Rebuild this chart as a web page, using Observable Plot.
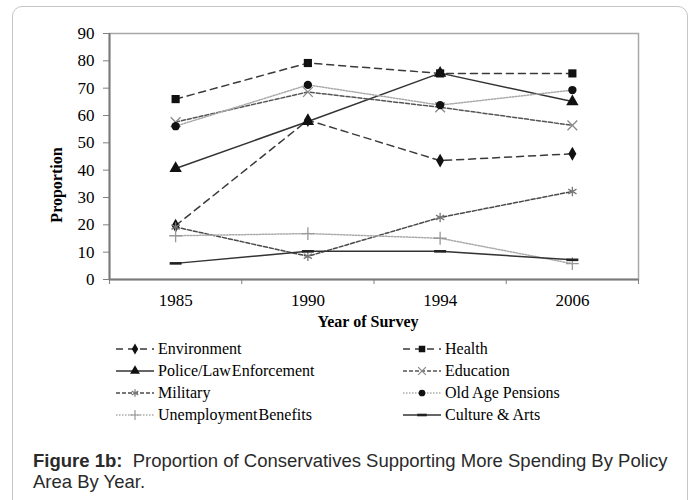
<!DOCTYPE html>
<html>
<head>
<meta charset="utf-8">
<script src="https://cdn.jsdelivr.net/npm/d3@7"></script>
<script src="https://cdn.jsdelivr.net/npm/@observablehq/plot@0.6"></script>
<style>
  html, body { margin: 0; padding: 0; background: #fff; }
  #wrap { position: relative; width: 694px; height: 500px; overflow: hidden; background: #fff; }
  #frame { position: absolute; left: 12px; top: 6px; width: 674px; height: 520px; border: 1.5px solid #c6c6c6; border-radius: 10px; }
  #chart { position: absolute; left: 0; top: 0; }
  .serif { font-family: "Liberation Serif", "Times New Roman", serif; color: #000; }
  #ylab { position: absolute; left: 57px; top: 185px; transform: translate(-50%, -50%) rotate(-90deg); font-weight: bold; font-size: 16px; white-space: nowrap; }
  #xlab { position: absolute; left: 368px; top: 322px; transform: translate(-50%, -50%); font-weight: bold; font-size: 16px; white-space: nowrap; }
  .leg { position: absolute; height: 20px; display: flex; align-items: center; font-size: 16px; white-space: nowrap; }
  .leg svg { display: block; margin-right: 4px; }
  .tight { word-spacing: -3px; }
  #caption { position: absolute; left: 33px; top: 450px; width: 650px; font-family: "Liberation Sans", Arial, sans-serif; font-size: 18.5px; line-height: 21px; color: #2a2a2a; }
  #caption div { white-space: nowrap; }
</style>
</head>
<body>
<div id="wrap">
  <div id="frame"></div>
  <div id="chart"></div>
  <div id="ylab" class="serif">Proportion</div>
  <div id="xlab" class="serif">Year of Survey</div>
  <div id="legend"></div>
  <div id="caption">
    <div><b>Figure 1b:</b><span>&nbsp; Proportion of Conservatives Supporting More Spending By Policy</span></div>
    <div>Area By Year.</div>
  </div>
</div>
<script>
// ---- data ----
const years = ["1985", "1990", "1994", "2006"];
const seriesNames = ["Environment", "Health", "Police/Law Enforcement", "Education", "Military", "Old Age Pensions", "Unemployment Benefits", "Culture & Arts"];
const environment  = [19.7, 58.3, 43.5, 46.0];
const health       = [66.0, 79.2, 75.4, 75.4];
const police       = [40.6, 57.8, 75.5, 65.1];
const education    = [57.6, 68.6, 63.0, 56.4];
const military     = [19.2, 8.5, 22.7, 32.2];
const pensions     = [56.1, 71.2, 63.8, 69.3];
const unemployment = [16.0, 16.8, 15.1, 5.8];
const culture      = [5.9, 10.3, 10.3, 7.2];
const yTicks = [0, 10, 20, 30, 40, 50, 60, 70, 80, 90];

// custom short-bar symbol for Culture & Arts
const barSymbol = { draw(ctx, size) { const w = Math.sqrt(size) * 0.75; ctx.rect(-w, -1.3, 2 * w, 2.6); } };

const styles = [
  { values: environment,  stroke: "#3a3a3a", dash: "7,5", sw: 1.5, symbol: "diamond",  r: 4.2, fill: "#111", mstroke: "none" },
  { values: health,       stroke: "#3a3a3a", dash: "7,5", sw: 1.5, symbol: "square",   r: 4.6, fill: "#111", mstroke: "none" },
  { values: police,       stroke: "#333",    dash: null,  sw: 1.5, symbol: "triangle", r: 4.6, fill: "#111", mstroke: "none" },
  { values: education,    stroke: "#555",    dash: "4,2", sw: 1.5, symbol: "times",    r: 4.5, fill: "none", mstroke: "#888" },
  { values: military,     stroke: "#4a4a4a", dash: "4,2", sw: 1.5, symbol: "asterisk", r: 4.5, fill: "none", mstroke: "#777" },
  { values: pensions,     stroke: "#aaa",    dash: "1.5,1.5", sw: 1.5, symbol: "circle", r: 4.2, fill: "#111", mstroke: "none" },
  { values: unemployment, stroke: "#aaa",    dash: "1.5,1.5", sw: 1.5, symbol: "plus",  r: 4.2, fill: "none", mstroke: "#999" },
  { values: culture,      stroke: "#333",    dash: null,  sw: 1.5, symbol: barSymbol,  r: 4.5, fill: "#222", mstroke: "none" }
];
const tightNames = new Set(["Police/Law Enforcement", "Unemployment Benefits"]);

const lineMarks = [];
const dotMarks = [];
styles.forEach((s, k) => {
  const rows = s.values.map((v, i) => ({ name: seriesNames[k], i, v }));
  lineMarks.push(Plot.line(rows, { x: "i", y: "v", stroke: s.stroke, strokeWidth: s.sw, strokeDasharray: s.dash || undefined }));
  dotMarks.push(Plot.dot(rows, { x: "i", y: "v", symbol: () => s.symbol, r: s.r, fill: s.fill, stroke: s.mstroke, strokeWidth: 1.3 }));
});

const idx = years.map((_, i) => i);
const bounds = d3.range(-0.5, years.length, 1);

const chart = Plot.plot({
  width: 694,
  height: 335,
  marginLeft: 109,
  marginRight: 56,
  marginTop: 33,
  marginBottom: 56,
  style: { fontFamily: "'Liberation Serif', 'Times New Roman', serif", fontSize: "16px", color: "#000", background: "transparent" },
  x: { domain: [-0.5, years.length - 0.5], axis: null },
  y: { domain: [0, 90], axis: null },
  symbol: { type: "identity" },
  marks: [
    Plot.frame({ stroke: "#a8a8a8", strokeWidth: 1.5 }),
    Plot.axisY({ ticks: yTicks, tickSize: 6, tickPadding: 9, stroke: "#808080", fill: "#000", fontSize: 17, label: null }),
    Plot.axisX({ ticks: bounds, tickSize: 5, tickFormat: () => "", stroke: "#808080", label: null }),
    Plot.axisX({ ticks: idx, tickSize: 0, tickPadding: 14, tickFormat: (i) => years[i], fill: "#000", fontSize: 17, label: null }),
    Plot.ruleY([0], { stroke: "#7a7a7a", strokeWidth: 2 }),
    Plot.ruleX([-0.5], { stroke: "#7a7a7a", strokeWidth: 2 }),
    ...lineMarks,
    ...dotMarks
  ]
});
document.getElementById("chart").appendChild(chart);

// ---- legend (HTML) ----
const legend = document.getElementById("legend");
const colSample = [116, 403];
const rowCenter = [349, 371, 393, 415];
seriesNames.forEach((name, k) => {
  const s = styles[k];
  const col = k % 2, row = Math.floor(k / 2);
  const item = document.createElement("div");
  item.className = "leg serif";
  item.style.left = colSample[col] + "px";
  item.style.top = (rowCenter[row] - 10) + "px";
  const W = 38, H = 14;
  const svg = d3.create("svg").attr("width", W).attr("height", H);
  svg.append("line").attr("x1", 0).attr("x2", W).attr("y1", H / 2).attr("y2", H / 2)
    .attr("stroke", s.stroke).attr("stroke-width", s.sw).attr("stroke-dasharray", s.dash || null);
  const symType = typeof s.symbol === "string"
    ? { diamond: d3.symbolDiamond, square: d3.symbolSquare, triangle: d3.symbolTriangle, times: d3.symbolTimes, asterisk: d3.symbolAsterisk, circle: d3.symbolCircle, plus: d3.symbolPlus }[s.symbol]
    : s.symbol;
  svg.append("path").attr("transform", `translate(${W / 2},${H / 2})`)
    .attr("d", d3.symbol(symType, Math.PI * (s.r * 0.8) ** 2)())
    .attr("fill", s.fill).attr("stroke", s.mstroke).attr("stroke-width", 1.2);
  item.appendChild(svg.node());
  const t = document.createElement("span");
  t.textContent = name;
  if (tightNames.has(name)) t.className = "tight";
  item.appendChild(t);
  legend.appendChild(item);
});
</script>
</body>
</html>
